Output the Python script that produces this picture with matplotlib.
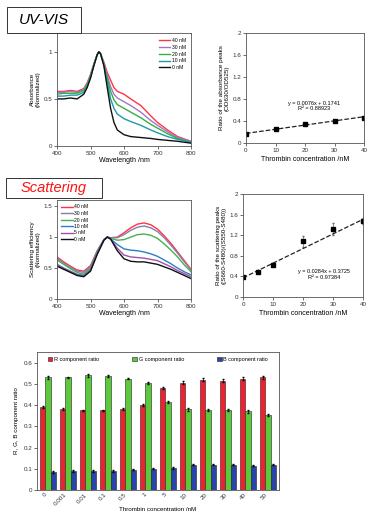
import numpy as np
import matplotlib
matplotlib.use("Agg")
import matplotlib.pyplot as plt
from matplotlib.patches import Rectangle

plt.rcParams['font.family'] = ['Liberation Sans', 'DejaVu Sans']
plt.rcParams['font.size'] = 4.5

# UV-VIS spectra (normalized absorbance)
uv_wl = [400, 420, 440, 460, 480, 490, 500, 510, 520, 525, 530, 540, 550, 560, 570, 580, 600, 620, 650, 680, 700, 730, 760, 800]
uv_labels = ['40 nM', '30 nM', '20 nM', '10 nM', '0 nM']
uv_colors = ['#ff3344', '#a874c8', '#33b040', '#1c9aa8', '#111111']
uv_40 = [0.58, 0.58, 0.59, 0.58, 0.61, 0.67, 0.76, 0.87, 0.97, 1.0, 0.98, 0.89, 0.78, 0.70, 0.62, 0.58, 0.55, 0.50, 0.43, 0.32, 0.25, 0.17, 0.10, 0.05]
uv_30 = [0.57, 0.57, 0.58, 0.57, 0.60, 0.66, 0.75, 0.87, 0.97, 1.0, 0.98, 0.88, 0.75, 0.63, 0.55, 0.51, 0.47, 0.43, 0.36, 0.27, 0.22, 0.15, 0.09, 0.05]
uv_20 = [0.55, 0.56, 0.56, 0.56, 0.59, 0.65, 0.74, 0.86, 0.97, 1.0, 0.98, 0.87, 0.72, 0.58, 0.49, 0.44, 0.40, 0.36, 0.30, 0.23, 0.19, 0.13, 0.08, 0.04]
uv_10 = [0.53, 0.53, 0.54, 0.54, 0.57, 0.63, 0.73, 0.86, 0.97, 1.0, 0.98, 0.86, 0.68, 0.50, 0.40, 0.34, 0.29, 0.26, 0.22, 0.17, 0.14, 0.10, 0.07, 0.04]
uv_0 = [0.50, 0.50, 0.51, 0.50, 0.55, 0.62, 0.72, 0.85, 0.97, 1.0, 0.98, 0.85, 0.62, 0.40, 0.25, 0.17, 0.12, 0.10, 0.09, 0.08, 0.07, 0.06, 0.05, 0.03]

# UV-VIS ratio
uv_conc = [0, 10, 20, 30, 40]
uv_ratio = [0.17, 0.25, 0.35, 0.40, 0.46]
uv_err = [0.01, 0.01, 0.015, 0.01, 0.01]
uv_slope, uv_icpt = 0.0076, 0.1741

# scattering spectra (normalized)
sc_wl = [400, 420, 440, 460, 480, 500, 520, 540, 550, 560, 580, 600, 620, 640, 660, 680, 700, 720, 740, 760, 780, 800]
sc_labels = ['40 nM', '30 nM', '20 nM', '10 nM', '5 nM', '0 nM']
sc_colors = ['#ff3344', '#8a7ca8', '#44b050', '#2a7fc8', '#a050a8', '#111111']
sc_40 = [0.68, 0.60, 0.53, 0.47, 0.45, 0.54, 0.78, 0.96, 1.0, 0.99, 1.00, 1.07, 1.15, 1.21, 1.23, 1.20, 1.13, 1.02, 0.90, 0.76, 0.62, 0.48]
sc_30 = [0.66, 0.58, 0.51, 0.45, 0.43, 0.52, 0.77, 0.96, 1.0, 0.99, 0.99, 1.04, 1.11, 1.16, 1.18, 1.15, 1.09, 0.99, 0.87, 0.74, 0.60, 0.47]
sc_20 = [0.63, 0.56, 0.49, 0.43, 0.40, 0.50, 0.76, 0.96, 1.0, 0.98, 0.95, 0.96, 1.00, 1.04, 1.05, 1.03, 0.98, 0.89, 0.79, 0.68, 0.55, 0.44]
sc_10 = [0.56, 0.50, 0.45, 0.40, 0.38, 0.47, 0.74, 0.95, 1.0, 0.97, 0.88, 0.81, 0.79, 0.78, 0.76, 0.73, 0.69, 0.63, 0.57, 0.50, 0.44, 0.39]
sc_5 = [0.55, 0.49, 0.44, 0.39, 0.37, 0.46, 0.73, 0.95, 1.0, 0.97, 0.82, 0.71, 0.68, 0.67, 0.66, 0.64, 0.62, 0.57, 0.52, 0.46, 0.41, 0.36]
sc_0 = [0.53, 0.48, 0.43, 0.38, 0.36, 0.45, 0.72, 0.95, 1.0, 0.97, 0.78, 0.65, 0.61, 0.60, 0.60, 0.58, 0.56, 0.52, 0.48, 0.43, 0.38, 0.33]

# scattering ratio
sc_conc = [0, 5, 10, 20, 30, 40]
sc_ratio = [0.39, 0.49, 0.63, 1.08, 1.32, 1.48]
sc_err = [0.01, 0.02, 0.03, 0.10, 0.12, 0.06]
sc_slope, sc_icpt = 0.0284, 0.3725

# RGB component ratios
conc_labels = ['0', '0.001', '0.01', '0.1', '0.5', '1', '5', '10', '20', '30', '40', '50']
r_ratio = [0.39, 0.38, 0.375, 0.375, 0.38, 0.40, 0.48, 0.505, 0.52, 0.515, 0.525, 0.53]
g_ratio = [0.53, 0.53, 0.54, 0.535, 0.525, 0.505, 0.415, 0.38, 0.375, 0.375, 0.37, 0.355]
b_ratio = [0.085, 0.09, 0.09, 0.09, 0.095, 0.10, 0.105, 0.12, 0.12, 0.12, 0.115, 0.12]
r_err = [0.004, 0.004, 0.004, 0.004, 0.004, 0.005, 0.006, 0.008, 0.008, 0.008, 0.005, 0.005]
g_err = [0.005, 0.004, 0.006, 0.005, 0.004, 0.005, 0.006, 0.006, 0.005, 0.005, 0.005, 0.005]
b_err = [0.003, 0.003, 0.003, 0.003, 0.003, 0.003, 0.004, 0.004, 0.004, 0.004, 0.004, 0.004]

W, H = 367, 513
fig = plt.figure(figsize=(3.67, 5.13), dpi=100)


def box(l, t, r, b):
    return [l / W, 1 - b / H, (r - l) / W, (b - t) / H]


def style(ax):
    ax.tick_params(labelsize=4.5, length=2, width=0.5, pad=1.5, colors='#333333')
    for s in ax.spines.values():
        s.set_linewidth(0.6)
        s.set_color('#555555')


# UV-VIS spectrum
ax1 = fig.add_axes(box(57, 33, 191, 146))
for ys, c, lab in zip([uv_40, uv_30, uv_20, uv_10, uv_0], uv_colors, uv_labels):
    ax1.plot(uv_wl, ys, color=c, lw=1.0, label=lab)
ax1.set_xlim(400, 800)
ax1.set_ylim(0, 1.2)
ax1.set_xticks([400, 500, 600, 700, 800])
ax1.set_yticks([0, 0.5, 1])
ax1.set_yticklabels(['0', '0.5', '1'])
ax1.set_xlabel('Wavelength /nm', fontsize=5, labelpad=1)
ax1.set_ylabel('Absorbance\n(Normalized)', fontsize=4.5, labelpad=2)
ax1.legend(loc='upper right', fontsize=3.6, frameon=False, handlelength=2.2,
           labelspacing=0.35, borderaxespad=0.6, handletextpad=0.4)
style(ax1)

# UV-VIS ratio
ax2 = fig.add_axes(box(246, 33, 364, 143))
ax2.errorbar(uv_conc, uv_ratio, yerr=uv_err, fmt='s', color='black', ms=2.5,
             elinewidth=0.5, capsize=1)
xs = np.array([0, 40])
ax2.plot(xs, uv_slope * xs + uv_icpt, '--', color='#222222', lw=0.9)
ax2.text(23, 0.71, 'y = 0.0076x + 0.1741', fontsize=4, ha='center', va='center')
ax2.text(23, 0.62, 'R² = 0.88923', fontsize=4, ha='center', va='center')
ax2.set_xlim(0, 40)
ax2.set_ylim(0, 2)
ax2.set_xticks([0, 10, 20, 30, 40])
ax2.set_yticks([0, 0.4, 0.8, 1.2, 1.6, 2])
ax2.set_yticklabels(['0', '0.4', '0.8', '1.2', '1.6', '2'])
ax2.set_xlabel('Thrombin concentration /nM', fontsize=5, labelpad=2)
ax2.set_ylabel('Ratio of the absorbance peaks\n(OD630/OD525)', fontsize=4.5, labelpad=2)
style(ax2)

# scattering spectrum
ax3 = fig.add_axes(box(57, 200, 191, 299))
for ys, c, lab in zip([sc_40, sc_30, sc_20, sc_10, sc_5, sc_0], sc_colors, sc_labels):
    ax3.plot(sc_wl, ys, color=c, lw=1.0, label=lab)
ax3.set_xlim(400, 800)
ax3.set_ylim(0, 1.6)
ax3.set_xticks([400, 500, 600, 700, 800])
ax3.set_yticks([0, 0.5, 1, 1.5])
ax3.set_yticklabels(['0', '0.5', '1', '1.5'])
ax3.set_xlabel('Wavelength /nm', fontsize=5, labelpad=1)
ax3.set_ylabel('Scattering efficiency\n(Normalized)', fontsize=4.5, labelpad=2)
ax3.legend(loc='upper left', fontsize=3.6, frameon=False, handlelength=2.2,
           labelspacing=0.3, borderaxespad=0.5, handletextpad=0.4)
style(ax3)

# scattering ratio
ax4 = fig.add_axes(box(243, 194, 363, 297))
ax4.errorbar(sc_conc, sc_ratio, yerr=sc_err, fmt='s', color='black', ms=2.5,
             elinewidth=0.5, capsize=1, ecolor='#666666')
ax4.plot(xs, sc_slope * xs + sc_icpt, '--', color='#222222', lw=0.9)
ax4.text(27, 0.49, 'y = 0.0284x + 0.3725', fontsize=4, ha='center', va='center')
ax4.text(27, 0.37, 'R² = 0.97384', fontsize=4, ha='center', va='center')
ax4.set_xlim(0, 40)
ax4.set_ylim(0, 2)
ax4.set_xticks([0, 10, 20, 30, 40])
ax4.set_yticks([0, 0.4, 0.8, 1.2, 1.6, 2])
ax4.set_yticklabels(['0', '0.4', '0.8', '1.2', '1.6', '2'])
ax4.set_xlabel('Thrombin concentration /nM', fontsize=5, labelpad=2)
ax4.set_ylabel('Ratio of the scattering peaks\n((S660-S480)/(S550-S480))', fontsize=4.5, labelpad=2)
style(ax4)

# RGB bars
ax5 = fig.add_axes(box(37, 352, 279, 490))
x = np.arange(len(conc_labels))
bw = 0.27
ax5.bar(x - bw, r_ratio, bw, yerr=r_err, color='#f02030', edgecolor='#222222', lw=0.4,
        error_kw=dict(elinewidth=0.5, capsize=1), label='R component ratio')
ax5.bar(x, g_ratio, bw, yerr=g_err, color='#5cc83c', edgecolor='#222222', lw=0.4,
        error_kw=dict(elinewidth=0.5, capsize=1), label='G component ratio')
ax5.bar(x + bw, b_ratio, bw, yerr=b_err, color='#2844a8', edgecolor='#222222', lw=0.4,
        error_kw=dict(elinewidth=0.5, capsize=1), label='B component ratio')
ax5.set_xlim(-0.55, len(conc_labels) - 0.45)
ax5.set_ylim(0, 0.65)
ax5.set_yticks([0, 0.1, 0.2, 0.3, 0.4, 0.5, 0.6])
ax5.set_yticklabels(['0', '0.1', '0.2', '0.3', '0.4', '0.5', '0.6'])
ax5.set_xticks(x)
ax5.set_xticklabels(conc_labels, rotation=45, ha='right', fontsize=4)
ax5.set_xlabel('Thrombin concentration /nM', fontsize=4.5, labelpad=0)
ax5.set_ylabel('R, G, B component ratio', fontsize=4.5, labelpad=3)
ax5.legend(loc='upper center', ncol=3, fontsize=4, frameon=False, handlelength=0.8,
           handleheight=0.8, columnspacing=6, handletextpad=0.3, borderaxespad=0.5)
style(ax5)
ax5.tick_params(axis='x', length=0)

# title boxes
fig.patches.append(Rectangle((7 / W, 1 - 33 / H), 74 / W, 26 / H, transform=fig.transFigure,
                             facecolor='white', edgecolor='#333333', lw=0.7))
fig.text(44 / W, 1 - 20 / H, 'UV-VIS', fontsize=11, style='italic', ha='center', va='center')
fig.patches.append(Rectangle((6 / W, 1 - 198 / H), 96 / W, 20 / H, transform=fig.transFigure,
                             facecolor='white', edgecolor='#333333', lw=0.7))
fig.text(54 / W, 1 - 188 / H, 'Scattering', fontsize=10.5, style='italic', color='#ff1010',
         ha='center', va='center')

fig.savefig('out.png', dpi=100)
